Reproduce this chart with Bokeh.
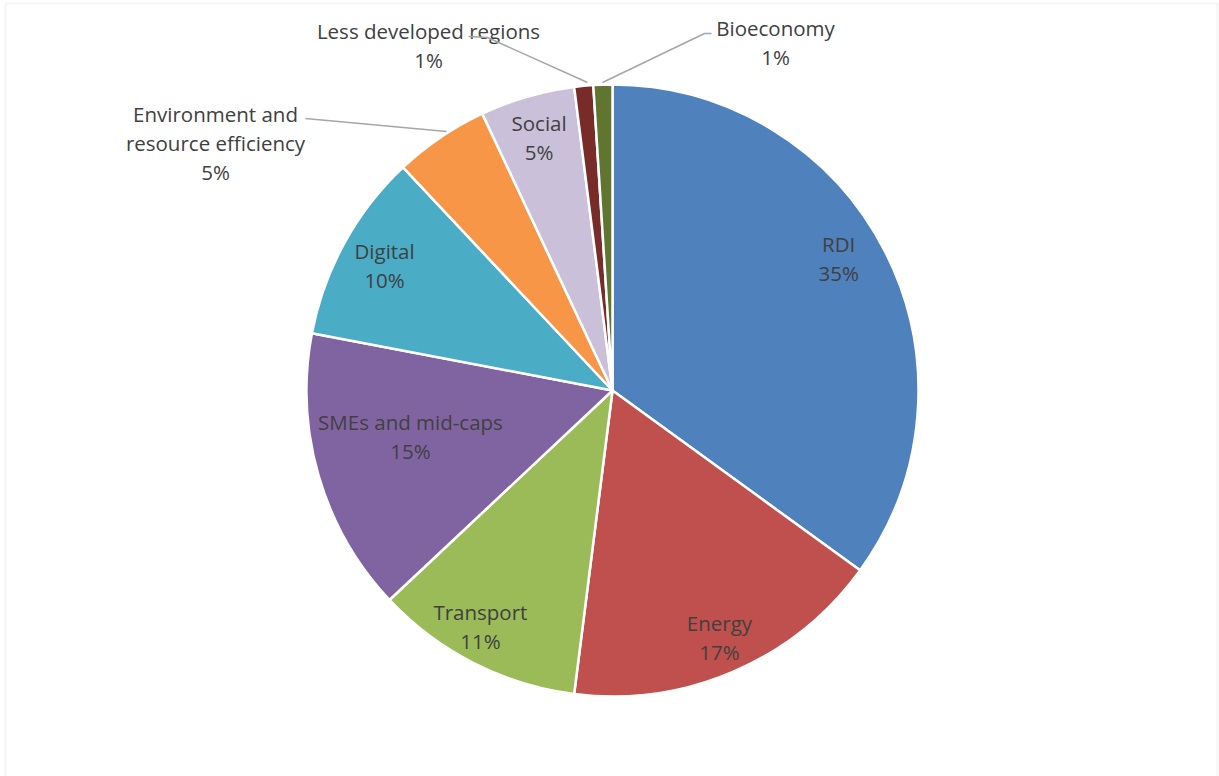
import math
from bokeh.plotting import figure
from bokeh.models import Range1d, ColumnDataSource, BoxAnnotation
from bokeh.core.properties import value
from bokeh.embed import file_html
from bokeh.resources import INLINE

# Share of investment by policy area (%), clockwise from 12 o'clock
categories = ["RDI", "Energy", "Transport", "SMEs and mid-caps", "Digital",
              "Environment and resource efficiency", "Social",
              "Less developed regions", "Bioeconomy"]
shares = [35, 17, 11, 15, 10, 5, 5, 1, 1]

colors = ["#4F81BD", "#C0504D", "#9BBB59", "#8064A2", "#4BACC6",
          "#F79646", "#CBC0DA", "#772C2A", "#5F7530"]

W, H = 1219, 776
CX, CY, R = 612, H - 390, 306
FONT = "Open Sans"
TXT = "#404040"

p = figure(width=W, height=H, x_range=Range1d(0, W), y_range=Range1d(0, H),
           output_backend="svg", toolbar_location=None, min_border=0)
p.axis.visible = False
p.grid.visible = False
p.outline_line_color = None
p.background_fill_color = "white"

# light frame around the chart area
p.add_layout(BoxAnnotation(left=5, right=1217, top=H - 3, bottom=-10,
                           fill_alpha=0, line_color="#d9d9d9", line_width=2))

total = float(sum(shares))
starts, ends, mids = [], [], []
cum = 0.0
for s in shares:
    a0 = math.pi / 2 - 2 * math.pi * cum / total
    cum += s
    a1 = math.pi / 2 - 2 * math.pi * cum / total
    starts.append(a0)
    ends.append(a1)
    mids.append((a0 + a1) / 2)

src = ColumnDataSource(dict(cat=categories, share=shares, start=starts,
                            end=ends, color=colors))
p.wedge(x=CX, y=CY, radius=R, start_angle="start", end_angle="end",
        direction="clock", fill_color="color", line_color="white",
        line_width=2.5, source=src)

# labels drawn inside their slices:
# (radius as fraction of pie radius, angular nudge in degrees)
inside = {"RDI": (0.856, 3.3), "Energy": (0.88, 0.0),
          "Transport": (0.885, -2.2), "SMEs and mid-caps": (0.677, -3.4),
          "Digital": (0.85, 0.0), "Social": (0.86, 0.0)}
xs, ys, ts = [], [], []
for cat, s, m in zip(categories, shares, mids):
    if cat in inside:
        f, nudge = inside[cat]
        a = m + math.radians(nudge)
        lx = CX + f * R * math.cos(a)
        ly = CY + f * R * math.sin(a)
        xs += [lx, lx]
        ys += [ly + 14.5, ly - 14.5]
        ts += [cat, f"{s}%"]

# labels placed outside with leader lines
outside = {
    "Environment and resource efficiency": (215, H - 142,
                                            ["Environment and", "resource efficiency"]),
    "Less developed regions": (428, H - 45, ["Less developed regions"]),
    "Bioeconomy": (775, H - 42, ["Bioeconomy"]),
}
for cat, s in zip(categories, shares):
    if cat in outside:
        ox, oy, lines = outside[cat]
        allines = lines + [f"{s}%"]
        n = len(allines)
        top = oy + (n - 1) * 29 / 2
        for i, t in enumerate(allines):
            xs.append(ox)
            ys.append(top - i * 29)
            ts.append(t)

p.text(x=xs, y=ys, text=ts, text_align="center", text_baseline="middle",
       text_font=value(FONT), text_font_size="20.5px", text_color=TXT)

# leader lines from outside labels to their slices
leaders = {
    "Environment and resource efficiency": ([305, 446], [H - 118, H - 131]),
    "Less developed regions": ([468, 487, 587], [H - 36, H - 37, H - 82]),
    "Bioeconomy": ([711, 704, 602], [H - 33, H - 33, H - 82]),
}
for cat in categories:
    if cat in leaders:
        lx, ly = leaders[cat]
        p.line(lx, ly, line_color="#a6a6a6", line_width=1.5)

open("out.html", "w").write(file_html(p, INLINE))
